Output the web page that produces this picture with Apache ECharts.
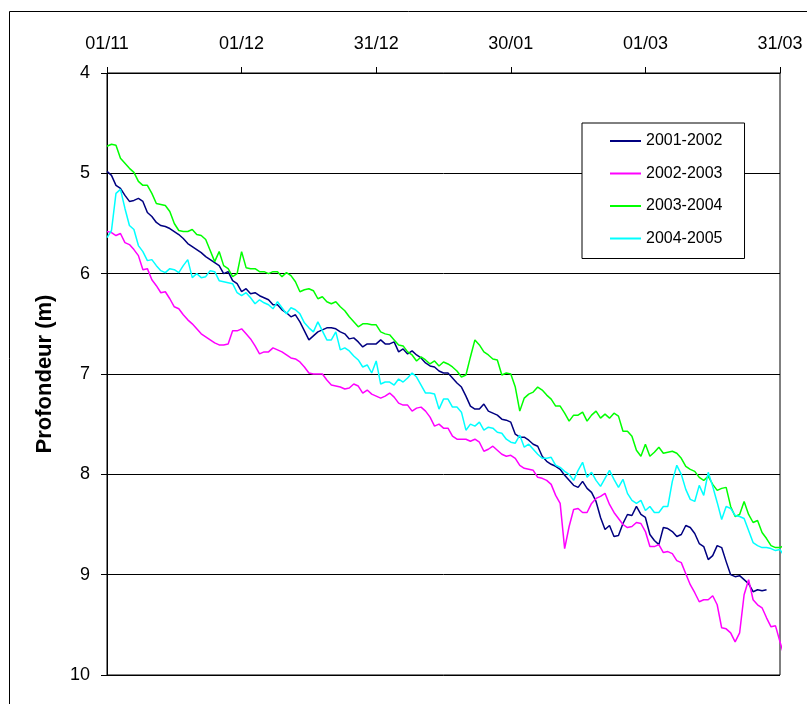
<!DOCTYPE html>
<html>
<head>
<meta charset="utf-8">
<script src="https://cdn.jsdelivr.net/npm/echarts@6/dist/echarts.min.js"></script>
<style>
  html, body { margin: 0; padding: 0; background: #fff; }
  #chart { width: 807px; height: 704px; }
</style>
</head>
<body>
<div id="chart"></div>
<script>
// Day index 0 = 01/11; one reading per day.
const tickDays = [0, 30, 60, 90, 120, 150];
const tickLabels = ['01/11', '01/12', '31/12', '30/01', '01/03', '31/03'];
const seriesNames = ['2001-2002', '2002-2003', '2003-2004', '2004-2005'];
const seriesColors = ['#000080', '#FF00FF', '#00FF00', '#00FFFF'];

// Profondeur (m), daily
const depth2001 = [4.98,5.02,5.12,5.15,5.22,5.28,5.27,5.25,5.28,5.39,
5.43,5.49,5.52,5.53,5.55,5.58,5.61,5.65,5.70,5.73,
5.76,5.79,5.83,5.86,5.89,5.92,6.00,5.98,6.07,6.10,
6.18,6.15,6.20,6.19,6.22,6.24,6.26,6.31,6.31,6.36,
6.39,6.43,6.41,6.48,6.57,6.66,6.62,6.58,6.56,6.54,
6.54,6.55,6.58,6.60,6.65,6.64,6.68,6.73,6.70,6.70,
6.70,6.66,6.70,6.70,6.68,6.78,6.75,6.80,6.77,6.81,
6.84,6.89,6.92,6.93,6.97,6.99,6.99,7.04,7.09,7.13,
7.22,7.32,7.35,7.35,7.30,7.37,7.39,7.41,7.45,7.46,
7.48,7.60,7.63,7.63,7.66,7.70,7.72,7.82,7.87,7.90,
7.92,7.95,8.01,8.06,8.11,8.13,8.07,8.14,8.18,8.27,
8.43,8.55,8.51,8.62,8.61,8.49,8.40,8.41,8.32,8.40,
8.43,8.60,8.66,8.70,8.53,8.54,8.57,8.62,8.60,8.51,
8.53,8.59,8.69,8.72,8.85,8.81,8.71,8.73,8.87,9.00,
9.02,9.01,9.05,9.09,9.17,9.15,9.16,9.15];

const depth2002 = [5.58,5.59,5.62,5.60,5.69,5.71,5.76,5.82,5.96,5.95,
6.06,6.12,6.19,6.18,6.25,6.33,6.35,6.41,6.46,6.50,
6.55,6.60,6.63,6.66,6.69,6.71,6.71,6.70,6.57,6.57,
6.55,6.60,6.65,6.72,6.80,6.78,6.78,6.74,6.76,6.78,
6.81,6.84,6.85,6.88,6.93,6.99,7.00,7.00,7.00,7.06,
7.11,7.12,7.13,7.15,7.14,7.10,7.12,7.19,7.16,7.20,
7.22,7.24,7.22,7.19,7.23,7.29,7.31,7.31,7.37,7.34,
7.33,7.37,7.43,7.52,7.50,7.54,7.54,7.62,7.65,7.65,
7.65,7.67,7.65,7.68,7.77,7.75,7.72,7.76,7.80,7.82,
7.81,7.84,7.91,7.94,7.95,7.96,8.03,8.04,8.06,8.10,
8.21,8.29,8.74,8.52,8.35,8.34,8.38,8.38,8.29,8.24,
8.22,8.19,8.30,8.38,8.44,8.50,8.53,8.52,8.48,8.49,
8.57,8.72,8.72,8.70,8.78,8.77,8.79,8.86,8.88,8.99,
9.10,9.18,9.27,9.25,9.25,9.21,9.30,9.53,9.54,9.58,
9.67,9.58,9.20,9.05,9.25,9.30,9.33,9.43,9.52,9.51,
9.67,9.82];

const depth2003 = [4.73,4.71,4.72,4.85,4.90,4.95,4.99,5.08,5.12,5.12,
5.20,5.30,5.31,5.32,5.38,5.50,5.57,5.58,5.58,5.56,
5.61,5.62,5.66,5.77,5.88,5.78,5.92,5.95,6.03,6.00,
5.78,5.94,5.95,5.95,5.98,5.98,6.00,5.98,5.98,6.03,
5.99,6.02,6.08,6.18,6.16,6.15,6.17,6.25,6.23,6.28,
6.30,6.28,6.33,6.37,6.43,6.48,6.53,6.50,6.50,6.51,
6.51,6.58,6.60,6.61,6.66,6.71,6.72,6.78,6.81,6.87,
6.83,6.86,6.90,6.87,6.92,6.88,6.90,6.93,6.97,7.03,
7.01,6.83,6.66,6.71,6.78,6.81,6.85,6.86,7.01,6.99,
7.00,7.13,7.37,7.24,7.20,7.18,7.13,7.16,7.21,7.25,
7.32,7.32,7.39,7.47,7.41,7.41,7.38,7.47,7.41,7.37,
7.44,7.40,7.44,7.39,7.42,7.57,7.57,7.62,7.76,7.82,
7.70,7.82,7.78,7.73,7.79,7.78,7.77,7.79,7.84,7.92,
7.95,7.97,8.03,8.06,8.02,8.10,8.16,8.14,8.13,8.32,
8.42,8.40,8.27,8.40,8.48,8.46,8.58,8.64,8.71,8.73,
8.73,8.71];

const depth2004 = [5.64,5.57,5.20,5.16,5.35,5.52,5.56,5.72,5.78,5.87,
5.86,5.92,5.97,5.99,5.95,5.96,5.99,5.92,5.86,6.04,
6.00,6.04,6.03,5.97,5.98,6.07,6.08,6.09,6.10,6.19,
6.22,6.19,6.24,6.30,6.26,6.29,6.31,6.35,6.28,6.34,
6.40,6.34,6.36,6.40,6.49,6.54,6.58,6.48,6.57,6.66,
6.66,6.58,6.76,6.74,6.77,6.82,6.86,6.93,6.91,6.99,
6.87,7.10,7.08,7.08,7.11,7.05,7.08,7.04,6.99,7.03,
7.11,7.19,7.19,7.20,7.35,7.25,7.25,7.33,7.33,7.38,
7.56,7.50,7.52,7.48,7.56,7.53,7.54,7.58,7.59,7.65,
7.68,7.69,7.61,7.73,7.70,7.75,7.80,7.84,7.84,7.83,
7.91,7.93,7.97,8.00,8.06,7.96,7.88,8.03,7.98,8.06,
8.12,8.04,7.96,8.05,8.13,8.05,8.19,8.26,8.29,8.26,
8.36,8.32,8.38,8.38,8.32,8.32,8.07,7.91,8.00,8.15,
8.25,8.27,8.11,8.21,7.98,8.12,8.28,8.45,8.32,8.34,
8.41,8.42,8.44,8.56,8.68,8.71,8.73,8.73,8.74,8.76,
8.75,8.82];

const allDepths = [depth2001, depth2002, depth2003, depth2004];
const FONT = '"Liberation Sans", Arial, sans-serif';

const chart = echarts.init(document.getElementById('chart'), null, { renderer: 'canvas' });

chart.setOption({
  backgroundColor: '#fff',
  animation: false,
  graphic: [{
    type: 'rect',
    left: 7, top: 9,
    shape: { width: 820, height: 720 },
    style: { fill: 'none', stroke: '#000', lineWidth: 1 },
    z: -10
  }],
  grid: {
    left: 107, right: 27, top: 73, bottom: 29,
    show: true, borderColor: '#000', borderWidth: 1, backgroundColor: 'transparent'
  },
  legend: {
    orient: 'vertical',
    left: 582, top: 123,
    padding: [9, 22, 11, 28],
    backgroundColor: '#fff',
    borderColor: '#000', borderWidth: 1,
    icon: 'rect',
    itemWidth: 31, itemHeight: 2,
    itemGap: 14.5,
    itemTextGap: 4,
    textStyle: { fontFamily: FONT, fontSize: 16, color: '#000', lineHeight: 18 },
    data: seriesNames
  },
  xAxis: {
    type: 'value',
    position: 'top',
    min: 0, max: 150, interval: 30,
    axisLine: { show: true, lineStyle: { color: '#000', width: 1 } },
    axisTick: { show: true, inside: false, length: 6, lineStyle: { color: '#000' } },
    splitLine: { show: false },
    axisLabel: {
      margin: 20,
      fontFamily: FONT, fontSize: 18, color: '#000',
      formatter: v => tickLabels[tickDays.indexOf(v)] || ''
    }
  },
  yAxis: {
    type: 'value',
    inverse: true,
    min: 4, max: 10, interval: 1,
    name: 'Profondeur (m)',
    nameLocation: 'middle',
    nameRotate: 90,
    nameGap: 51,
    nameTextStyle: { fontFamily: FONT, fontSize: 22, fontWeight: 'bold', color: '#000' },
    axisLine: { show: true, lineStyle: { color: '#000', width: 1 } },
    axisTick: { show: true, inside: false, length: 6, lineStyle: { color: '#000' } },
    splitLine: { show: true, lineStyle: { color: '#000', width: 1 } },
    axisLabel: { margin: 17, fontFamily: FONT, fontSize: 18, color: '#000' }
  },
  series: seriesNames.map((name, k) => ({
    name: name,
    type: 'line',
    clip: false,
    showSymbol: false,
    symbol: 'none',
    color: seriesColors[k],
    lineStyle: { color: seriesColors[k], width: 1.5 },
    data: allDepths[k].map((v, i) => [i, v])
  }))
});
</script>
</body>
</html>
